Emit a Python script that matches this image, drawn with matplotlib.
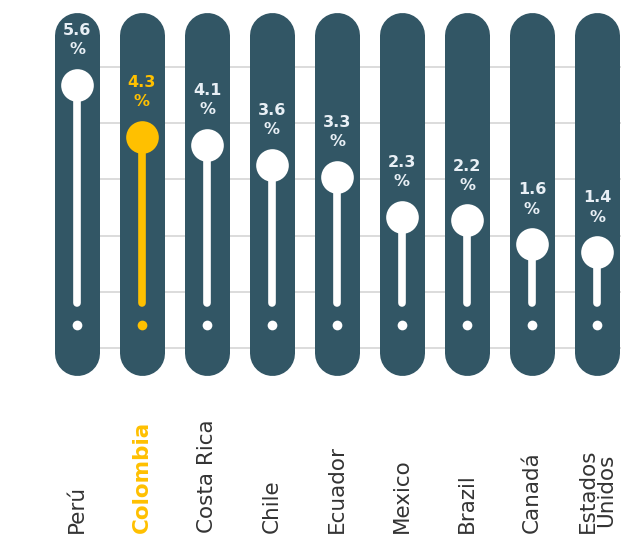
import numpy as np
import matplotlib.pyplot as plt

countries = ['Perú', 'Colombia', 'Costa Rica', 'Chile', 'Ecuador',
             'Mexico', 'Brazil', 'Canadá', 'Estados\nUnidos']
values = [5.6, 4.3, 4.1, 3.6, 3.3, 2.3, 2.2, 1.6, 1.4]
highlight = 'Colombia'

slate = '#325665'
gold = '#FFC000'
label_col = '#e8eff5'

fig = plt.figure(figsize=(6.21, 5.54), dpi=100)
ax = fig.add_axes([77 / 621, 0, 1 - 77 / 621, 1])
ax.set_xlim(0, (621 - 77) / 65)
ax.set_ylim(-6.18, 7.74)

# faint horizontal grid behind the pills
for g in 6.05 - 1.41 * np.arange(6):
    ax.axhline(g, color='#d6d6d6', lw=1.2, zorder=0)

for i, (c, v) in enumerate(zip(countries, values)):
    col = gold if c == highlight else 'white'
    # pill
    ax.plot([i, i], [-1.12, 6.87], color=slate, lw=32.4,
            solid_capstyle='round', zorder=1, clip_on=False)
    # stem + knob
    ax.plot([i, i], [0.12, v], color=col, lw=5.5,
            solid_capstyle='round', zorder=2, clip_on=False)
    ax.plot(i, v, 'o', ms=23.5, color=col, mec='none', zorder=3, clip_on=False)
    ax.plot(i, -0.43, 'o', ms=7, color=col, mec='none', zorder=3, clip_on=False)
    # value label
    ax.annotate(f'{v}\n%', (i, v), xytext=(0, 20), textcoords='offset points',
                ha='center', va='bottom', fontsize=11.5, fontweight='bold',
                color=gold if c == highlight else label_col,
                linespacing=1.35, zorder=4, annotation_clip=False)
    # country name
    ax.text(i, -5.65, c, rotation=90, ha='center', va='bottom',
            fontsize=15.5, color=gold if c == highlight else '#333333',
            fontweight='bold' if c == highlight else 'normal',
            linespacing=0.9, clip_on=False)

ax.axis('off')
fig.savefig('out.png', dpi=100, facecolor='white')
